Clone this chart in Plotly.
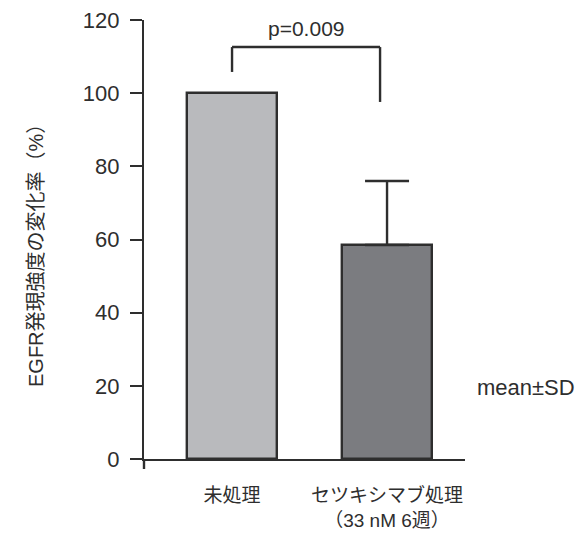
import plotly.graph_objects as go

# Data
categories = ["未処理", "セツキシマブ処理<br>（33 nM 6週）"]
means = [100, 58.5]
sd_upper = [0, 17.5]
p_label = "p=0.009"
y_ticks = [0, 20, 40, 60, 80, 100, 120]
y_title = "EGFR発現強度の変化率（%）"

bar_colors = ["#b9babd", "#7b7c80"]
ink = "#2e2e2e"
font_family = "Liberation Sans, Noto Sans CJK JP, sans-serif"

fig = go.Figure()

fig.add_trace(go.Bar(
    x=[0, 1], y=means, width=0.575,
    marker=dict(color=bar_colors, line=dict(color=ink, width=2.4)),
    showlegend=False, hoverinfo="skip",
))

# SD whisker drawn only above the treated bar
fig.add_trace(go.Scatter(
    x=[1], y=[means[1]], mode="markers",
    marker=dict(size=1, color="rgba(0,0,0,0)"),
    error_y=dict(type="data", array=[sd_upper[1]], arrayminus=[0],
                 symmetric=False, color=ink, thickness=2.4, width=22),
    showlegend=False, hoverinfo="skip",
))

# significance bracket
bx0, bx1 = 0.0, 0.955
fig.add_shape(type="line", x0=bx0, x1=bx0, y0=105.8, y1=112.6,
              xref="x", yref="y", line=dict(color=ink, width=2.4))
fig.add_shape(type="line", x0=bx0, x1=bx1, y0=112.6, y1=112.6,
              xref="x", yref="y", line=dict(color=ink, width=2.4))
fig.add_shape(type="line", x0=bx1, x1=bx1, y0=112.6, y1=97.6,
              xref="x", yref="y", line=dict(color=ink, width=2.4))
fig.add_annotation(x=(bx0 + bx1) / 2, y=117.8, xref="x", yref="y",
                   text=p_label, showarrow=False,
                   font=dict(size=21, color=ink, family=font_family))

# small extension of the y axis line below zero
fig.add_shape(type="line", x0=0, x1=0, y0=0, y1=-10 / 439,
              xref="paper", yref="paper", line=dict(color=ink, width=2.4))

fig.add_annotation(x=1.03, y=(459 - 402) / 439, xref="paper", yref="paper",
                   text="mean±SD", showarrow=False, xanchor="left",
                   font=dict(size=22, color=ink, family=font_family))

# y axis title
fig.add_annotation(x=(23 - 144) / 321, y=(459 - 251) / 439,
                   xref="paper", yref="paper", text=y_title,
                   textangle=-90, showarrow=False,
                   font=dict(size=20, color=ink, family=font_family))

fig.update_layout(
    width=579, height=533,
    margin=dict(l=144, r=114, t=20, b=74),
    paper_bgcolor="white", plot_bgcolor="white",
    font=dict(family=font_family, color=ink),
    xaxis=dict(
        range=[-0.568, 1.503],
        tickvals=[0, 1], ticktext=categories,
        showline=True, linecolor=ink, linewidth=2.4,
        ticks="", showgrid=False, zeroline=False,
        tickfont=dict(size=19, color=ink),
        ticklabelstandoff=18, automargin=False,
    ),
    yaxis=dict(
        range=[0, 120], tickvals=y_ticks,
        showline=True, linecolor=ink, linewidth=2.4,
        ticks="outside", ticklen=12, tickwidth=2, tickcolor=ink,
        showgrid=False, zeroline=False,
        tickfont=dict(size=22, color=ink),
        ticklabelstandoff=6, automargin=False,
    ),
    bargap=0,
)

fig.write_html("out.html")
